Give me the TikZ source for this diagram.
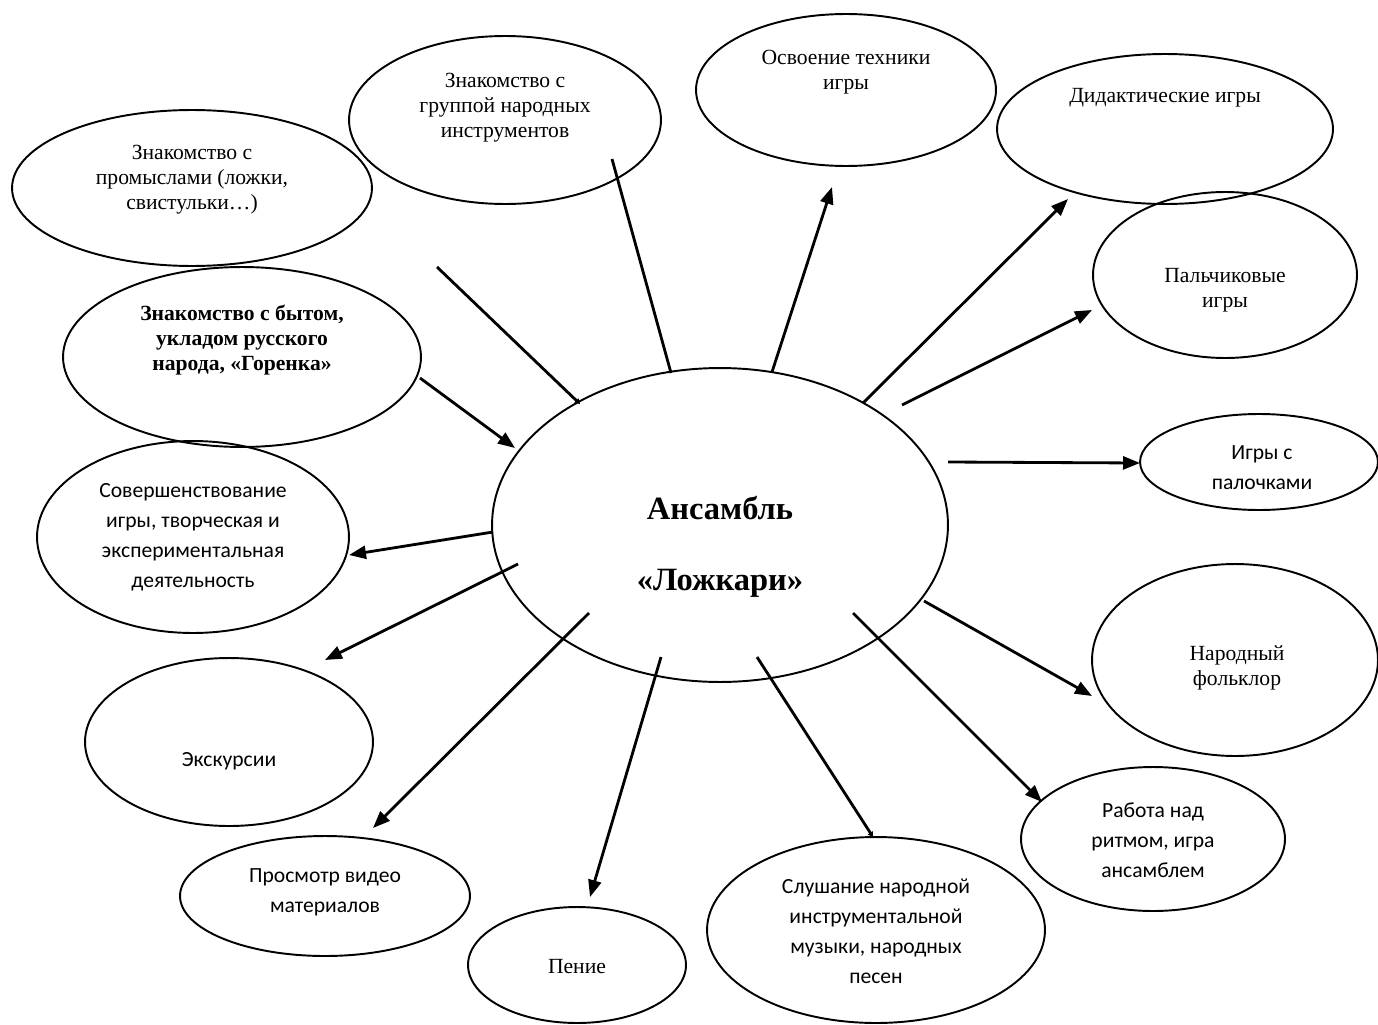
\documentclass[tikz,border=0pt]{standalone}
\usepackage{fontspec}
\setmainfont{Liberation Serif}
\newfontfamily\calfont{Carlito}
\usetikzlibrary{shapes.geometric,arrows.meta}
\tikzset{
 oval/.style={draw, ellipse, line width=1.1pt, inner sep=0pt},
 sertext/.style={align=center, font=\fontsize{12.3}{14.2}\selectfont, inner sep=0pt},
 santext/.style={align=center, font=\calfont\fontsize{12.3}{17}\selectfont, inner sep=0pt},
 boldtext/.style={align=center, font=\bfseries\fontsize{12.3}{14.2}\selectfont, inner sep=0pt},
 bigtext/.style={font=\bfseries\fontsize{18.5}{22}\selectfont, inner sep=0pt},
 conn/.style={line width=1.6pt, -{Triangle[length=0.34cm,width=0.26cm]}},
 bareline/.style={line width=1.6pt},
 tinytip/.style={line width=1.6pt, -{Triangle[length=0.1cm,width=0.12cm]}},
}
\begin{document}
\begin{tikzpicture}[x=0.02cm,y=-0.02cm]
\useasboundingbox (0,0) rectangle (1378,1024);
% ellipses
\node[oval, minimum width=7.20cm, minimum height=3.12cm] (e1) at (192,188) {};
\node[oval, minimum width=6.24cm, minimum height=3.36cm] (e2) at (505,120) {};
\node[oval, minimum width=6.00cm, minimum height=3.04cm] (e3) at (846,90) {};
\node[oval, minimum width=6.72cm, minimum height=3.00cm] (e4) at (1165,129) {};
\node[oval, minimum width=5.28cm, minimum height=3.32cm] (e5) at (1225,275) {};
\node[oval, minimum width=7.16cm, minimum height=3.60cm] (e6) at (242,357) {};
\node[oval, minimum width=9.12cm, minimum height=6.28cm] (e7) at (720,525) {};
\node[oval, minimum width=4.76cm, minimum height=1.92cm] (e8) at (1259,462) {};
\node[oval, minimum width=6.24cm, minimum height=3.84cm] (e9) at (193,537) {};
\node[oval, minimum width=5.72cm, minimum height=3.84cm] (e10) at (1235,660) {};
\node[oval, minimum width=5.76cm, minimum height=3.36cm] (e11) at (229,742) {};
\node[oval, minimum width=5.28cm, minimum height=2.88cm] (e12) at (1153,839) {};
\node[oval, minimum width=5.80cm, minimum height=2.40cm] (e13) at (325,896) {};
\node[oval, minimum width=4.36cm, minimum height=2.32cm] (e14) at (577,965) {};
\node[oval, minimum width=6.76cm, minimum height=3.72cm] (e15) at (876,930) {};
% texts
\node[sertext] (t1) at (192,180) {Знакомство с\\промыслами (ложки,\\свистульки…)};
\node[sertext] (t2) at (505,108) {Знакомство с\\группой народных\\инструментов};
\node[sertext] (t3) at (846,72) {Освоение техники\\игры};
\node[sertext] (t4) at (1165,98) {Дидактические игры};
\node[sertext] (t5) at (1225,290) {Пальчиковые\\игры};
\node[boldtext] (t6) at (242,340) {Знакомство с бытом,\\укладом русского\\народа, «Горенка»};
\node[bigtext] (t7a) at (720,508) {Ансамбль};
\node[bigtext] (t7b) at (720,583) {«Ложкари»};
\node[santext] (t8) at (1262,468) {Игры с\\палочками};
\node[santext] (t9) at (193,537) {Совершенствование\\игры, творческая и\\экспериментальная\\деятельность};
\node[sertext] (t10) at (1237,668) {Народный\\фольклор};
\node[santext] (t11) at (229,761) {Экскурсии};
\node[santext] (t12) at (1153,840) {Работа над\\ритмом, игра\\ансамблем};
\node[santext] (t13) at (325,892) {Просмотр видео\\материалов};
\node[sertext] (t14) at (577,967) {Пение};
\node[santext] (t15) at (876,931) {Слушание народной\\инструментальной\\музыки, народных\\песен};
% connector end points
\coordinate (s1) at (437,267); \coordinate (f1) at (580,404);
\coordinate (s2) at (612,159); \coordinate (f2) at (671,373);
\coordinate (s3) at (772,372); \coordinate (f3) at (832,187);
\coordinate (s4) at (863,403); \coordinate (f4) at (1068,199);
\coordinate (s5) at (902,405); \coordinate (f5) at (1092,310);
\coordinate (s6) at (948,462); \coordinate (f6) at (1140,463);
\coordinate (s7) at (420,378); \coordinate (f7) at (515,448);
\coordinate (s8) at (493,532); \coordinate (f8) at (349,555);
\coordinate (s9) at (518,564); \coordinate (f9) at (325,660);
\coordinate (s10) at (589,613); \coordinate (f10) at (373,828);
\coordinate (s11) at (661,657); \coordinate (f11) at (590,897);
\coordinate (s12) at (757,657); \coordinate (f12) at (873,837);
\coordinate (s13) at (853,613); \coordinate (f13) at (1042,802);
\coordinate (s14) at (924,601); \coordinate (f14) at (1092,696);
% connectors
\draw[tinytip] (s1) -- (f1);
\draw[bareline] (s2) -- (f2);
\draw[conn] (s3) -- (f3);
\draw[conn] (s4) -- (f4);
\draw[conn] (s5) -- (f5);
\draw[conn] (s6) -- (f6);
\draw[conn] (s7) -- (f7);
\draw[conn] (s8) -- (f8);
\draw[conn] (s9) -- (f9);
\draw[conn] (s10) -- (f10);
\draw[conn] (s11) -- (f11);
\draw[tinytip] (s12) -- (f12);
\draw[conn] (s13) -- (f13);
\draw[conn] (s14) -- (f14);
\end{tikzpicture}
\end{document}
